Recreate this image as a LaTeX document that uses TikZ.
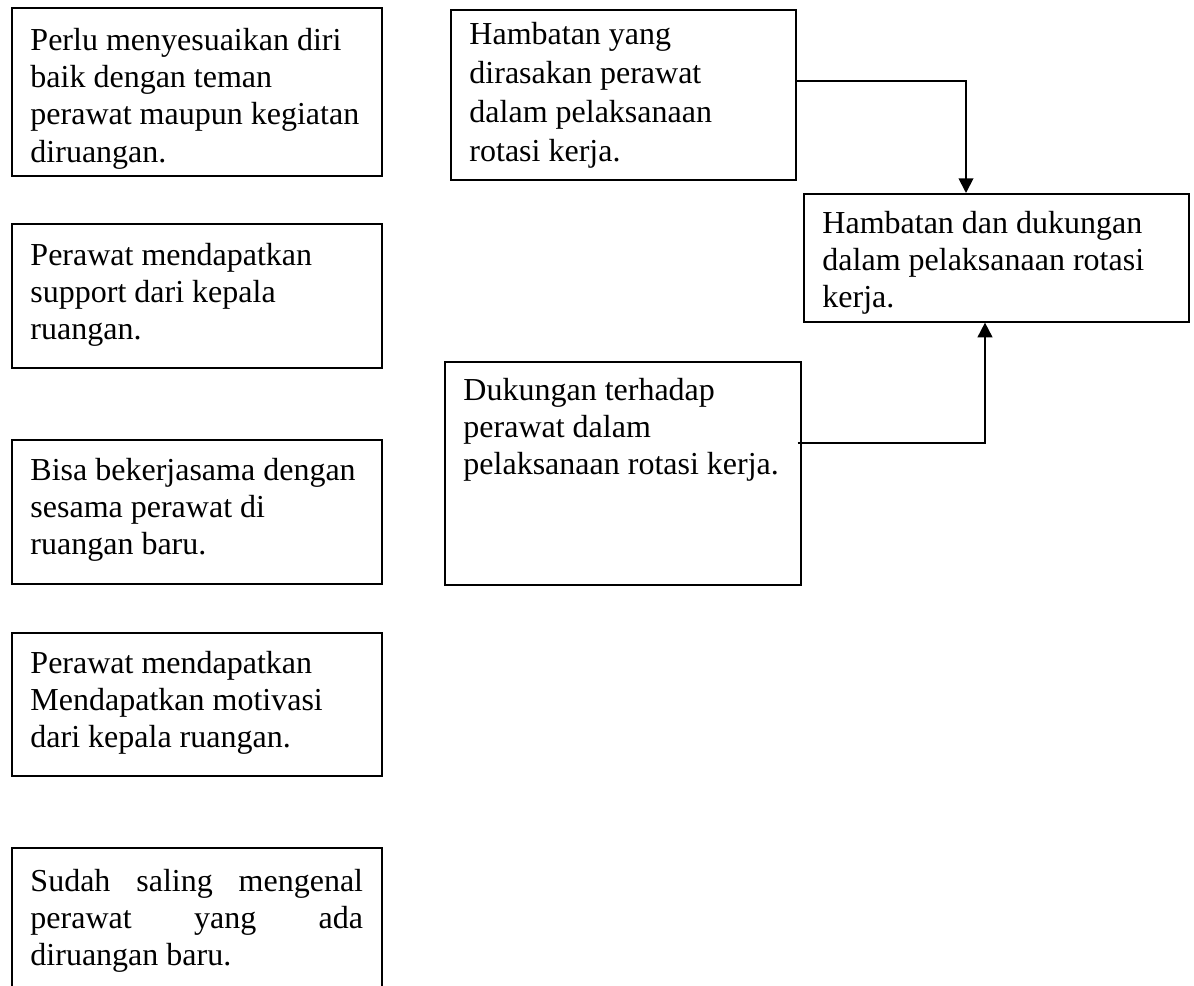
\documentclass[tikz,border=0pt]{standalone}
\usepackage{fontspec}
\setmainfont{Liberation Serif}
\usetikzlibrary{arrows.meta}
% box text: [line skip] width, height, first baseline (all in px of the page), text
\newcommand{\isian}[5][13.9]{\parbox[c][\dimexpr0.375pt*#3\relax][t]{\dimexpr0.375pt*#2-14pt\relax}{\fontsize{12}{#1}\selectfont\raggedright\rule{0pt}{\dimexpr0.375pt*#4\relax}#5}}

\begin{document}
\begin{tikzpicture}[x=0.375pt,y=-0.375pt,>={Triangle[length=5.5pt,width=5.5pt]}]
\tikzset{kotak/.style={draw,line width=0.6pt,anchor=north west,inner xsep=7pt,inner ysep=0pt}}
\useasboundingbox (0,0) rectangle (1194,986);
% left column
\node[kotak] (sesuai) at (11,7) {\isian{370}{168}{43}{Perlu menyesuaikan diri\\ baik dengan teman\\ perawat maupun kegiatan\\ diruangan.}};
\node[kotak] (support) at (11,223) {\isian{370}{144}{42}{Perawat mendapatkan\\ support dari kepala\\ ruangan.}};
\node[kotak] (kerjasama) at (11,439) {\isian{370}{144}{41}{Bisa bekerjasama dengan\\ sesama perawat di\\ ruangan baru.}};
\node[kotak] (motivasi) at (11,632) {\isian{370}{143}{41}{Perawat mendapatkan\\ Mendapatkan motivasi\\ dari kepala ruangan.}};
\node[kotak] (kenal) at (11,847) {\isian{370}{150}{44}{Sudah\hfill saling\hfill mengenal\\ perawat\hfill yang\hfill ada\\ diruangan baru.}};
% middle and right
\node[kotak] (hambat) at (450,9) {\isian[14.6]{345}{170}{35}{Hambatan yang\\ dirasakan perawat\\ dalam pelaksanaan\\ rotasi kerja.}};
\node[kotak] (dukung) at (444,361) {\isian{356}{223}{39}{Dukungan terhadap\\ perawat dalam\\ pelaksanaan rotasi kerja.}};
\node[kotak] (hasil) at (803,193) {\isian{385}{128}{40}{Hambatan dan dukungan\\ dalam pelaksanaan rotasi\\ kerja.}};
\coordinate (belok1) at (966,81);
\coordinate (belok2) at (985,443);
\draw[->,line width=0.7pt] (belok1 -| hambat.east) -- (belok1) -- (belok1 |- hasil.north);
\draw[->,line width=0.7pt] ([xshift=-1.5pt]dukung.east |- belok2) -- (belok2) -- (belok2 |- hasil.south);
\end{tikzpicture}
\end{document}
